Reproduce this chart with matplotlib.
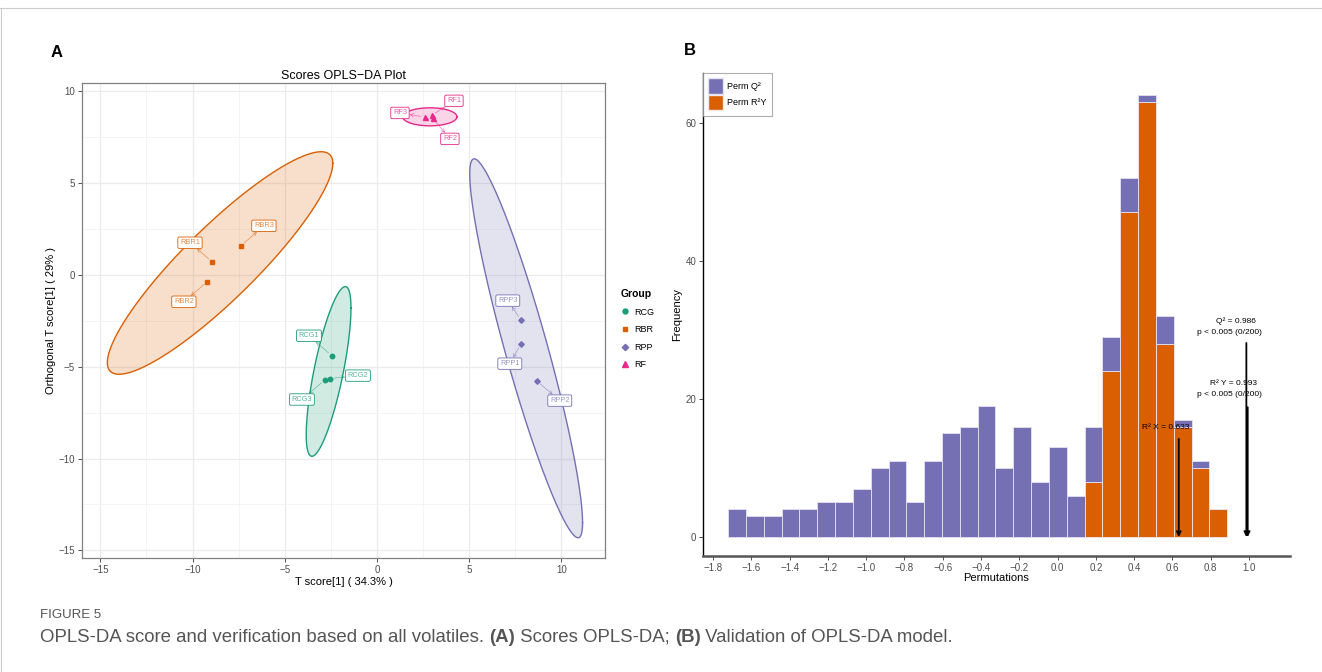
import matplotlib
matplotlib.use("Agg")
import matplotlib.pyplot as plt
import numpy as np
from matplotlib.lines import Line2D
from matplotlib.patches import Patch

plt.rcParams['font.family'] = ['Liberation Sans', 'DejaVu Sans']

# ---- data: OPLS-DA scores ----
samples = ['RCG1', 'RCG2', 'RCG3', 'RBR1', 'RBR2', 'RBR3',
           'RPP1', 'RPP2', 'RPP3', 'RF1', 'RF2', 'RF3']
sample_group = ['RCG'] * 3 + ['RBR'] * 3 + ['RPP'] * 3 + ['RF'] * 3
t_score = [-2.46, -2.56, -2.84, -8.95, -9.20, -7.37,
           7.81, 8.67, 7.81, 2.98, 3.04, 2.60]
o_score = [-4.40, -5.65, -5.74, 0.71, -0.38, 1.58,
           -3.77, -5.78, -2.46, 8.675, 8.517, 8.578]
groups = ['RCG', 'RBR', 'RPP', 'RF']

# ---- data: permutation histogram ----
bin_start = -1.721
bin_width = 0.0931
q2_counts = [4, 3, 3, 4, 4, 5, 5, 7, 10, 11, 5, 11, 15, 16, 19, 10, 16, 8, 13, 6,
             8, 5, 5, 1, 4, 1, 1, 0]
r2y_counts = [0] * 20 + [8, 24, 47, 63, 28, 16, 10, 4]
r2x, q2, r2y = 0.633, 0.986, 0.993

# ---- styles / layout ----
colors = {'RCG': '#1B9E77', 'RBR': '#D95F02', 'RPP': '#7570B3', 'RF': '#E7298A'}
markers = {'RCG': 'o', 'RBR': 's', 'RPP': 'D', 'RF': '^'}
msize = {'RCG': 3.2, 'RBR': 3.0, 'RPP': 2.8, 'RF': 3.6}
label_pos = {'RBR1': (-10.14, 1.74), 'RBR2': (-10.47, -1.47), 'RBR3': (-6.13, 2.66),
             'RCG1': (-3.69, -3.32), 'RCG2': (-1.03, -5.49), 'RCG3': (-4.07, -6.79),
             'RPP1': (7.21, -4.84), 'RPP2': (9.92, -6.85), 'RPP3': (7.10, -1.41),
             'RF1': (4.18, 9.46), 'RF2': (3.96, 7.39), 'RF3': (1.25, 8.80)}
tick_col = '#4D4D4D'


def minus_fmt(fmt):
    def f(v, p):
        if abs(v) < 1e-9:
            v = 0.0
        return format(v, fmt).replace('-', '\u2212')
    return matplotlib.ticker.FuncFormatter(f)


fig = plt.figure(figsize=(13.22, 6.72), dpi=100)

# ===== Panel A =====
ax = fig.add_axes([0.062, 0.170, 0.396, 0.7065])
ax.set_xlim(-16.0, 12.4)
ax.set_ylim(-15.4, 10.43)
ax.set_xticks([-15, -10, -5, 0, 5, 10])
ax.set_yticks([-15, -10, -5, 0, 5, 10])
ax.set_xticks(np.arange(-12.5, 12.5, 5), minor=True)
ax.set_yticks(np.arange(-12.5, 10, 5), minor=True)
ax.grid(True, which='major', color='#EBEBEB', lw=0.9)
ax.grid(True, which='minor', color='#F2F2F2', lw=0.6)
ax.set_axisbelow(True)
ax.tick_params(which='minor', length=0)
ax.tick_params(which='major', length=3, color='#333333', labelsize=7,
               labelcolor=tick_col, width=0.6, pad=2)
for s in ax.spines.values():
    s.set_color('#808080')
    s.set_linewidth(0.9)

t_arr = np.array(t_score)
o_arr = np.array(o_score)
g_arr = np.array(sample_group)
theta = np.linspace(0, 2 * np.pi, 200)
circle = np.column_stack([np.cos(theta), np.sin(theta)])
radius = np.sqrt(2 * 19.0)  # sqrt(dfn * qf(0.95, 2, 2))
for g in groups:
    m = g_arr == g
    pts = np.column_stack([t_arr[m], o_arr[m]])
    cov = np.cov(pts.T)
    L = np.linalg.cholesky(cov)
    ell = pts.mean(axis=0) + radius * circle @ L.T
    ax.fill(ell[:, 0], ell[:, 1], color=colors[g], alpha=0.2, lw=0, zorder=1)
    ax.plot(ell[:, 0], ell[:, 1], color=colors[g], lw=1.0, zorder=2)
    ax.plot(t_arr[m], o_arr[m], ls='none', marker=markers[g], ms=msize[g],
            color=colors[g], zorder=3)

for name, g, x, y in zip(samples, sample_group, t_score, o_score):
    lx, ly = label_pos[name]
    ax.annotate(name, xy=(x, y), xytext=(lx, ly), ha='center', va='center',
                fontsize=5.3, color=colors[g], alpha=0.75, zorder=4,
                bbox=dict(boxstyle='round,pad=0.3,rounding_size=0.2', fc='white',
                          ec=colors[g], lw=0.6),
                arrowprops=dict(arrowstyle='<-', color=colors[g], lw=0.5, alpha=0.6,
                                shrinkA=0, shrinkB=3, mutation_scale=6))

ax.set_title('Scores OPLS\u2212DA Plot', fontsize=9, pad=3)
ax.set_xlabel('T score[1] ( 34.3% )', fontsize=8, labelpad=2)
ax.set_ylabel('Orthogonal T score[1] ( 29% )', fontsize=8, labelpad=2)
ax.xaxis.set_major_formatter(minus_fmt('.0f'))
ax.yaxis.set_major_formatter(minus_fmt('.0f'))

handles = [Line2D([], [], ls='none', marker=markers[g], ms=msize[g] + 0.4,
                  color=colors[g], label=g) for g in groups]
leg = ax.legend(handles=handles, title='Group', loc='upper left',
                bbox_to_anchor=(0.463, 0.582), bbox_transform=fig.transFigure,
                frameon=False, fontsize=6.5, title_fontsize=7.5,
                handlelength=1.0, handletextpad=0.6, labelspacing=0.95)
leg.get_title().set_fontweight('bold')
leg._legend_box.align = 'left'

# ===== Panel B =====
ax2 = fig.add_axes([0.5318, 0.1726, 0.444, 0.7188])
edges = bin_start + bin_width * np.arange(len(q2_counts) + 1)
lefts = edges[:-1]
ax2.bar(lefts, r2y_counts, width=bin_width, align='edge', color='#D95F02',
        edgecolor='#F2E6F0', lw=0.6, zorder=2)
ax2.bar(lefts, q2_counts, width=bin_width, align='edge', bottom=r2y_counts,
        color='#7570B3', edgecolor='#E4E2F0', lw=0.6, zorder=2)

ax2.set_xlim(-1.852, 1.214)
ax2.set_ylim(-2.75, 67.2)
ax2.set_xticks(np.round(np.arange(-1.8, 1.01, 0.2), 1))
ax2.set_yticks([0, 20, 40, 60])
ax2.xaxis.set_major_formatter(minus_fmt('.1f'))
ax2.tick_params(length=3, labelsize=7, labelcolor=tick_col, width=0.6,
                color='#333333', pad=2)
ax2.spines['top'].set_visible(False)
ax2.spines['right'].set_visible(False)
ax2.spines['left'].set_color('black')
ax2.spines['bottom'].set_color('#555555')
ax2.spines['left'].set_linewidth(1.0)
ax2.spines['bottom'].set_linewidth(1.8)
ax2.set_xlabel('Permutations', fontsize=8, labelpad=0)
ax2.set_ylabel('Frequency', fontsize=8, labelpad=2)

arrow_kw = dict(arrowstyle='->', color='black', lw=1.3, mutation_scale=7,
                shrinkA=0, shrinkB=0)
ax2.annotate('', xy=(r2x, 0), xytext=(r2x, 14.2), arrowprops=arrow_kw)
ax2.annotate('', xy=(q2, 0), xytext=(q2, 28.1), arrowprops=arrow_kw)
ax2.annotate('', xy=(r2y, 0), xytext=(r2y, 18.8), arrowprops=arrow_kw)
fs = 6.0
ax2.text(0.565, 15.9, f'R\u00b2 X = {r2x:.3f}', fontsize=fs, ha='center', va='center')
ax2.text(0.932, 31.2, f'Q\u00b2 = {q2:.3f}', fontsize=fs, ha='center', va='center')
ax2.text(0.896, 29.6, 'p < 0.005 (0/200)', fontsize=fs, ha='center', va='center')
ax2.text(0.921, 22.3, f'R\u00b2 Y = {r2y:.3f}', fontsize=fs, ha='center', va='center')
ax2.text(0.898, 20.6, 'p < 0.005 (0/200)', fontsize=fs, ha='center', va='center')

leg2 = ax2.legend(handles=[Patch(fc='#7570B3', ec='#E4E2F0', label='Perm Q\u00b2'),
                           Patch(fc='#D95F02', ec='#F2E6F0', label='Perm R\u00b2Y')],
                  loc='upper left', bbox_to_anchor=(0.0, 1.0), borderaxespad=0,
                  fontsize=6.5, fancybox=False, handlelength=1.6, handleheight=2.3,
                  handletextpad=0.5, labelspacing=0.05, borderpad=0.6)
leg2.get_frame().set_edgecolor('#999999')
leg2.get_frame().set_linewidth(0.8)

# ---- panel letters, frame lines, caption ----
fig.text(0.038, 0.922, 'A', fontsize=12, fontweight='bold', va='center')
fig.text(0.517, 0.925, 'B', fontsize=12, fontweight='bold', va='center')
fig.add_artist(Line2D([0, 1], [1 - 8 / 672, 1 - 8 / 672], color='#CCCCCC', lw=0.8))
fig.add_artist(Line2D([0.0008, 0.0008], [0, 1 - 8 / 672], color='#CCCCCC', lw=0.8))

cap_font = ['Liberation Sans Narrow', 'Liberation Sans', 'DejaVu Sans']
cap_col = '#555555'
fig.text(40 / 1322, 1 - 615 / 672, 'FIGURE 5', fontsize=9.5, color=cap_col,
         family=cap_font, va='center')
pieces = [('OPLS-DA score and verification based on all volatiles. ', 'normal'),
          ('(A)', 'bold'), (' Scores OPLS-DA; ', 'normal'), ('(B)', 'bold'),
          (' Validation of OPLS-DA model.', 'normal')]
renderer = fig.canvas.get_renderer()
x0 = 40 / 1322
for txt, wt in pieces:
    t = fig.text(x0, 1 - 637 / 672, txt, fontsize=13.4, color=cap_col,
                 family=cap_font, fontweight=wt, va='center')
    bb = t.get_window_extent(renderer=renderer)
    x0 += bb.width / fig.bbox.width

fig.savefig('out.png', dpi=100, facecolor='white')
